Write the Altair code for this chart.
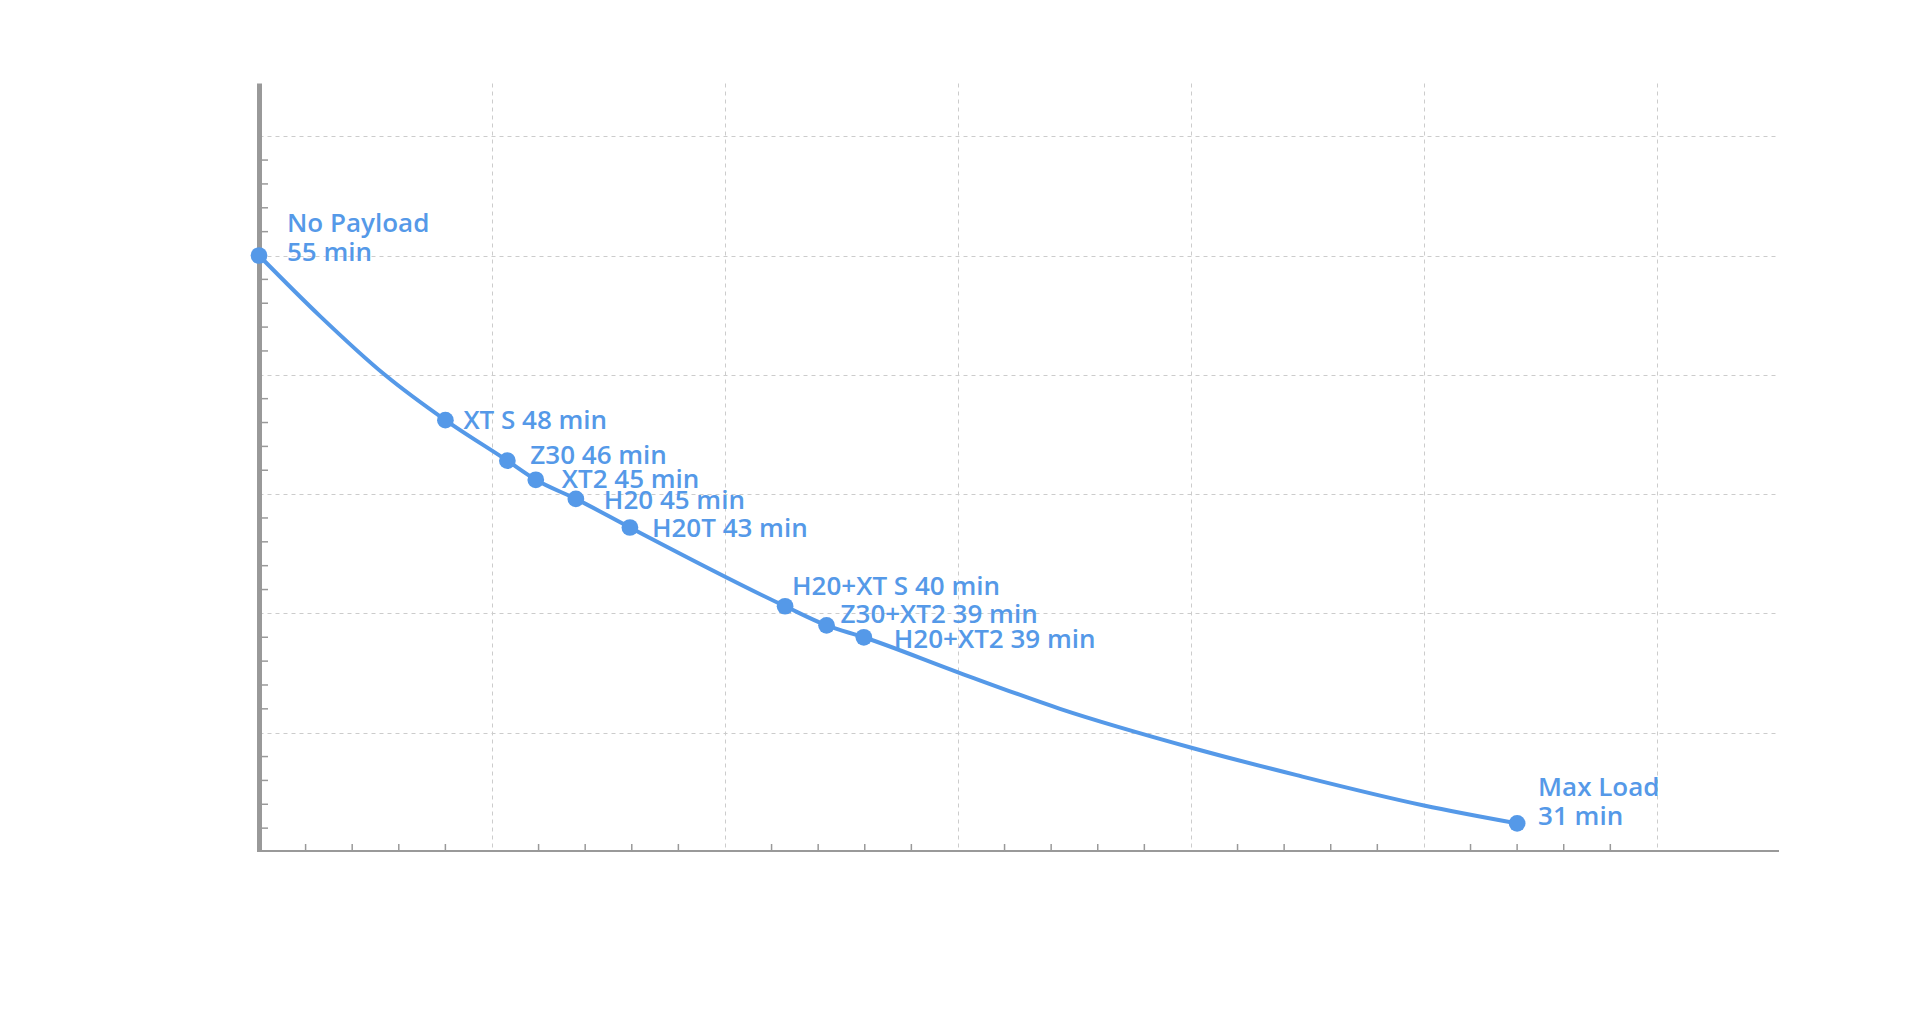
import altair as alt
import pandas as pd

# ---- data ----
payload_kg = [0.0, 0.40, 0.533, 0.594, 0.680, 0.796, 1.129, 1.218, 1.298, 2.70]
flight_min = [55.0, 48.1, 46.4, 45.6, 44.8, 43.6, 40.3, 39.5, 39.0, 31.2]
point_labels = [
    "No Payload|55 min",
    "XT S 48 min",
    "Z30 46 min",
    "XT2 45 min",
    "H20 45 min",
    "H20T 43 min",
    "H20+XT S 40 min",
    "Z30+XT2 39 min",
    "H20+XT2 39 min",
    "Max Load|31 min",
]
# extra positions (between the markers)
curve_kg = [0.131, 0.270, 1.503, 1.719, 2.005, 2.227, 2.500]
curve_min = [52.46, 50.0, 37.51, 36.0, 34.35, 33.22, 31.95]

x_gridlines = [0.5, 1.0, 1.5, 2.0, 2.5, 3.0]
y_gridlines = [35, 40, 45, 50, 55, 60]
x_minor_ticks = [round(i * 0.1, 1) for i in range(1, 30) if i % 5]
y_minor_ticks = [v for v in range(31, 60) if v % 5]

# ---- styling ----
BLUE = "#5599e8"
GREY = "#999999"
W, H = 1520, 769
# label offsets (dx, dy of baseline relative to point centre)
label_offsets = [(28, -24), (18, 9), (23, 3), (26, 8), (28, 10), (22, 9),
                 (7, -11), (14, -2), (30, 11), (21, -27)]

x_scale = alt.Scale(domain=[0, 3.262], nice=False, zero=False)
y_scale = alt.Scale(domain=[30, 62.23], nice=False, zero=False)

x_axis = alt.Axis(values=x_gridlines, grid=True, gridDash=[4, 4], gridColor="#cccccc",
                  gridWidth=1, labels=False, ticks=False, title=None,
                  domainColor=GREY, domainWidth=5)
y_axis = alt.Axis(values=y_gridlines, grid=True, gridDash=[4, 4], gridColor="#cccccc",
                  gridWidth=1, labels=False, ticks=False, title=None,
                  domainColor=GREY, domainWidth=5)


def X(field):
    return alt.X(field, type="quantitative", scale=x_scale, axis=x_axis)


def Y(field):
    return alt.Y(field, type="quantitative", scale=y_scale, axis=y_axis)


df = pd.DataFrame({
    "payload": payload_kg,
    "minutes": flight_min,
    "label": point_labels,
    "order": list(range(len(payload_kg))),
})

curve_df = pd.DataFrame({
    "payload": payload_kg + curve_kg,
    "minutes": flight_min + curve_min,
}).sort_values("payload").reset_index(drop=True)

line = alt.Chart(curve_df).mark_line(color=BLUE, strokeWidth=4, interpolate="monotone").encode(
    x=X("payload"), y=Y("minutes"), order="payload:Q")

points = alt.Chart(df).mark_circle(color=BLUE, size=280, opacity=1).encode(
    x=X("payload"), y=Y("minutes"))

x_ticks = alt.Chart(pd.DataFrame({"v": x_minor_ticks})).mark_rule(
    color=GREY, strokeWidth=1.5).encode(x=X("v"), y=alt.value(H), y2=alt.value(H - 8))

y_ticks = alt.Chart(pd.DataFrame({"v": y_minor_ticks})).mark_rule(
    color=GREY, strokeWidth=1.5).encode(y=Y("v"), x=alt.value(0), x2=alt.value(9))

texts = []
for i, (dx, dy) in enumerate(label_offsets):
    texts.append(
        alt.Chart(df).transform_filter(alt.datum.order == i).mark_text(
            align="left", baseline="alphabetic", dx=dx, dy=dy, fontSize=26,
            font="Open Sans", fontWeight=600, color=BLUE, lineBreak="|", lineHeight=29,
        ).encode(x=X("payload"), y=Y("minutes"), text="label:N")
    )

chart = alt.layer(x_ticks, y_ticks, line, points, *texts).properties(
    width=W, height=H,
    autosize=alt.AutoSizeParams(type="none"),
    padding={"left": 251, "top": 75, "right": 0, "bottom": 0},
    background="white",
).configure_view(stroke=None)

chart.save("out.html", embed_options={"renderer": "svg", "actions": False})
